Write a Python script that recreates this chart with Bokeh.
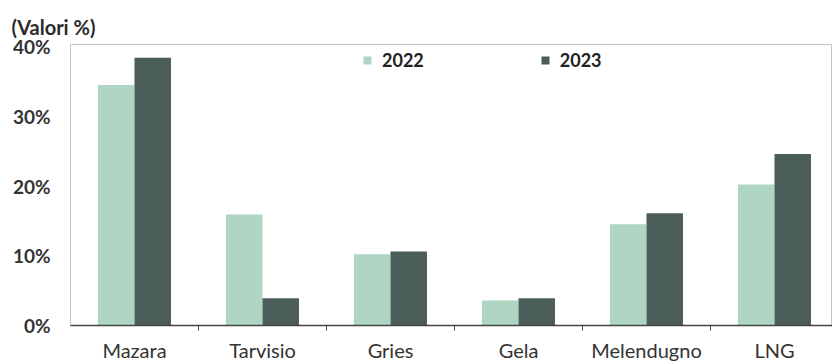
from bokeh.plotting import figure
from bokeh.models import Range1d, FixedTicker, PrintfTickFormatter, Legend, LegendItem
from bokeh.embed import file_html
from bokeh.resources import INLINE

categories = ["Mazara", "Tarvisio", "Gries", "Gela", "Melendugno", "LNG"]
values_2022 = [34.5, 15.9, 10.2, 3.6, 14.5, 20.2]
values_2023 = [38.4, 3.9, 10.6, 3.9, 16.1, 24.6]
y_ticks = [0, 10, 20, 30, 40]
series_labels = ["2022", "2023"]

FONT = "Lato"
C22 = "#aed6c2"
C23 = "#4b5d59"

centers = [i + 0.5 for i in range(len(categories))]
bw = 0.285
x22 = [c - bw / 2 for c in centers]
x23 = [c + bw / 2 for c in centers]

p = figure(width=832, height=364, output_backend="svg", toolbar_location=None,
           x_range=Range1d(0, 762 / 128), y_range=Range1d(0, 40.29),
           min_border_left=70, min_border_right=0, min_border_top=44, min_border_bottom=37)

r22 = p.vbar(x=x22, top=values_2022, width=bw, fill_color=C22, line_color=None)
r23 = p.vbar(x=x23, top=values_2023, width=bw, fill_color=C23, line_color=None)

p.title.text = "(Valori %)"
p.title.text_font = FONT
p.title.text_font_size = "20px"
p.title.text_font_style = "bold"
p.title.text_color = "#2b2b2b"
p.title.align = "left"
p.title.offset = -59
p.title.standoff = 12

p.outline_line_color = "#c4c4c4"
p.xgrid.grid_line_color = None
p.ygrid.grid_line_color = None

xa = p.xaxis[0]
xa.ticker = FixedTicker(ticks=centers, minor_ticks=[1, 2, 3, 4, 5])
xa.major_label_overrides = {c: name for c, name in zip(centers, categories)}
xa.major_tick_line_color = None
xa.major_tick_out = 0
xa.major_tick_in = 0
xa.minor_tick_line_color = "#444444"
xa.minor_tick_out = 5
xa.minor_tick_in = 0
xa.axis_line_color = "#444444"
xa.axis_line_width = 1.5
xa.major_label_text_font = FONT
xa.major_label_text_font_size = "20px"
xa.major_label_text_color = "#333333"
xa.major_label_standoff = 7

ya = p.yaxis[0]
ya.ticker = FixedTicker(ticks=y_ticks)
ya.formatter = PrintfTickFormatter(format="%d%%")
ya.axis_line_color = None
ya.major_tick_line_color = None
ya.minor_tick_line_color = None
ya.major_tick_out = 0
ya.major_label_text_font = FONT
ya.major_label_text_font_size = "19px"
ya.major_label_text_font_style = "bold"
ya.major_label_text_color = "#333333"
ya.major_label_standoff = 20

legend = Legend(items=[LegendItem(label=series_labels[0], renderers=[r22]),
                       LegendItem(label=series_labels[1], renderers=[r23])],
                orientation="horizontal", location=(292, 254),
                glyph_width=10, glyph_height=10, label_standoff=10, spacing=116,
                padding=0, margin=0, border_line_color=None, background_fill_alpha=0,
                label_text_font=FONT, label_text_font_size="18px",
                label_text_font_style="bold", label_text_color="#222222")
p.add_layout(legend, "center")

open("out.html", "w").write(file_html(p, INLINE))
